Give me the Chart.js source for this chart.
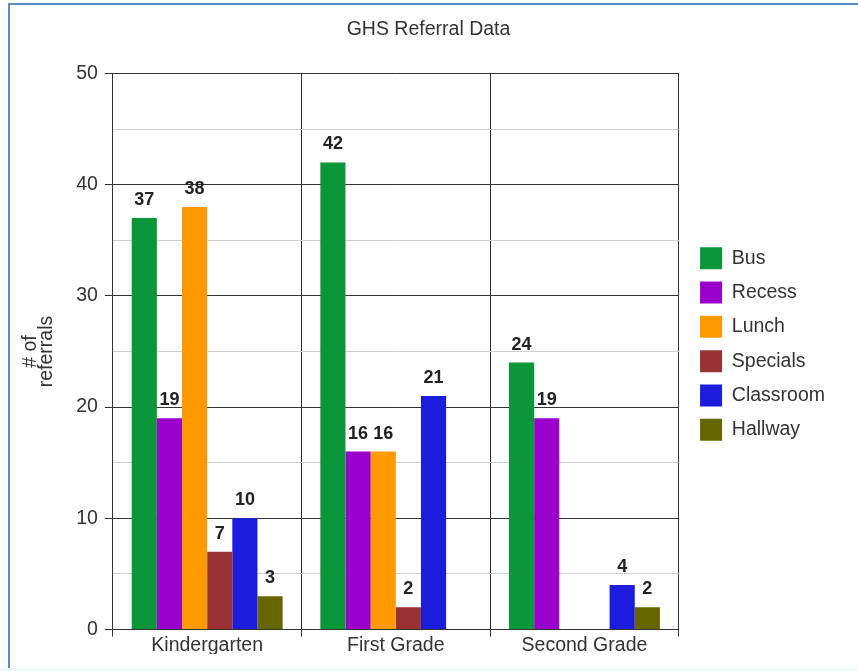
<!DOCTYPE html>
<html>
<head>
<meta charset="utf-8">
<script src="https://cdn.jsdelivr.net/npm/chart.js@4"></script>
<style>
  body { margin: 0; background: #fff; }
  #frame {
    position: absolute; left: 8px; top: 3px; width: 860px; height: 664px;
    border-left: 2px solid #5b8bc9; border-top: 2px solid #5b8bc9;
  }
  #strip { position: absolute; left: 0; top: 668px; width: 858px; height: 3px; background: #e8fbff; }
  #wrap { position: absolute; left: 0; top: 0; width: 858px; height: 671px; }
</style>
</head>
<body>
<div id="frame"></div>
<div id="strip"></div>
<div id="wrap"><canvas id="referralChart"></canvas></div>
<script>
// Chart data
const grades = ['Kindergarten', 'First Grade', 'Second Grade'];
const bus = [37, 42, 24];
const recess = [19, 16, 19];
const lunch = [38, 16, null];
const specials = [7, 2, null];
const classroom = [10, 21, 4];
const hallway = [3, null, 2];

const seriesNames = ['Bus', 'Recess', 'Lunch', 'Specials', 'Classroom', 'Hallway'];
const seriesValues = [bus, recess, lunch, specials, classroom, hallway];
const seriesColors = ['#0a9639', '#9a00cc', '#ff9900', '#993333', '#1c1cdc', '#666600'];

const FONT = '"Liberation Sans", Arial, sans-serif';
const LEGEND_GAP = 9;

// Draw the value above each bar
const barLabels = {
    id: 'barLabels',
    afterDatasetsDraw(chart) {
        const ctx = chart.ctx;
        ctx.save();
        ctx.font = 'bold 18px ' + FONT;
        ctx.fillStyle = '#222';
        ctx.textAlign = 'center';
        ctx.textBaseline = 'bottom';
        chart.data.datasets.forEach((ds, i) => {
            chart.getDatasetMeta(i).data.forEach((bar, j) => {
                const v = ds.data[j];
                if (v === null || v === 0) return;
                ctx.fillText(v, bar.x, bar.y - 9);
            });
        });
        ctx.restore();
    }
};

// Push the legend a bit further away from the plot
const legendGap = {
    id: 'legendGap',
    beforeLayout(chart) {
        const lg = chart.legend;
        if (!lg || lg._gapPatched) return;
        const fit = lg.fit;
        const draw = lg.draw;
        lg.fit = function () {
            fit.call(this);
            this.width += LEGEND_GAP;
        };
        lg.draw = function () {
            this.ctx.save();
            this.ctx.translate(LEGEND_GAP, 0);
            draw.call(this);
            this.ctx.restore();
        };
        lg._gapPatched = true;
    }
};

function renderChart() {
    const ctx = document.getElementById('referralChart').getContext('2d');
    new Chart(ctx, {
        type: 'bar',
        data: {
            labels: grades,
            datasets: seriesNames.map((name, i) => ({
                label: name,
                data: seriesValues[i],
                backgroundColor: seriesColors[i],
                borderWidth: 0,
                categoryPercentage: 0.8,
                barPercentage: 1.0
            }))
        },
        options: {
            responsive: true,
            maintainAspectRatio: false,
            animation: false,
            layout: {
                padding: { left: 22, right: 23, top: 0, bottom: 17 }
            },
            scales: {
                x: {
                    grid: {
                        offset: true,
                        color: '#333',
                        tickLength: 7
                    },
                    border: { color: '#333' },
                    ticks: {
                        color: '#333',
                        font: { size: 19.5, family: FONT },
                        padding: -3
                    }
                },
                y: {
                    min: 0,
                    max: 50,
                    ticks: {
                        stepSize: 5,
                        color: '#333',
                        font: { size: 19.5, family: FONT },
                        padding: 7,
                        callback: v => (v % 10 === 0 ? v : '')
                    },
                    grid: {
                        color: c => (c.tick && c.tick.value % 10 === 0 ? '#333' : '#cfcfcf'),
                        tickColor: c => (c.tick && c.tick.value % 10 === 0 ? '#333' : 'rgba(0,0,0,0)'),
                        tickLength: 8
                    },
                    border: { color: '#333' },
                    title: {
                        display: true,
                        text: ['# of', 'referrals'],
                        color: '#333',
                        font: { size: 19.5, family: FONT, lineHeight: 0.85 },
                        padding: { top: 0, bottom: 14 }
                    }
                }
            },
            plugins: {
                title: {
                    display: true,
                    text: 'GHS Referral Data',
                    color: '#333',
                    font: { size: 19.5, weight: 'normal', family: FONT },
                    padding: { top: 18, bottom: 32 }
                },
                legend: {
                    position: 'right',
                    title: {
                        display: true,
                        text: ' ',
                        font: { size: 10 },
                        padding: { top: 11, bottom: 11 }
                    },
                    labels: {
                        boxWidth: 22,
                        boxHeight: 22,
                        padding: 12.3,
                        color: '#333',
                        font: { size: 19.5, family: FONT }
                    }
                },
                tooltip: { enabled: false }
            }
        },
        plugins: [barLabels, legendGap]
    });
}

document.addEventListener('DOMContentLoaded', renderChart);
</script>
</body>
</html>
